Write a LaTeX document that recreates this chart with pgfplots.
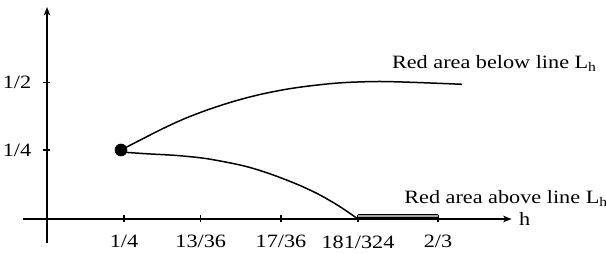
\documentclass[border=0pt]{standalone}
\usepackage{fontspec}
\setmainfont[FakeStretch=1.18]{Liberation Serif}
\usepackage{pgfplots}
\pgfplotsset{compat=1.18}
\usetikzlibrary{arrows.meta}
\begin{document}
\fontsize{11.3}{13.5}\selectfont
\begin{tikzpicture}
\begin{axis}[
  x=0.6pt, y=0.6pt,
  axis lines=middle,
  xmin=-24.3, xmax=464.7, ymin=-24.3, ymax=212,
  axis line style={line width=1.1pt, -{Stealth[length=5pt,width=3.8pt,inset=1.2pt]}},
  xtick={77,153.7,234,311,391},
  xticklabels={1/4,13/36,17/36,181/324,2/3},
  ytick={69,136.7},
  yticklabels={1/4,1/2},
  tick align=center,
  major tick length=4.2pt,
  tick style={line width=0.9pt, black},
  xticklabel style={anchor=north, inner sep=0pt, yshift=-7.6pt},
  yticklabel style={anchor=east, inner sep=0pt, xshift=-7.2pt},
  xlabel={h},
  every axis x label/.style={at={(rel axis cs:1,0.1028)}, anchor=west, inner sep=0pt, xshift=4.2pt},
  clip=false,
]
\addplot[line width=0.9pt, smooth] coordinates {
  (74,69) (113,89) (138,100.5) (163,110) (188,118) (213,124.5) (238,129.5) (258,132.5) (283,135.3) (303,136.7) (333,137.5) (370,136.5) (415,134.7)
};
\addplot[line width=0.9pt, smooth] coordinates {
  (74,67) (100,65.2) (130,63.5) (160,60.3) (193,54) (213,48.5) (233,41.5) (253,33.5) (273,24) (293,12.3) (311,0)
};
\addplot[draw=black, line width=0.5pt, double=gray!70, double distance=1.3pt] coordinates {(311,3) (391,3)};
\addplot[only marks, mark=*, mark size=3.6pt, black] coordinates {(74,69)};
\node[anchor=base west, inner sep=0pt] at (axis cs:344.7,150.5) {Red area below line L\textsubscript{h}};
\node[anchor=base west, inner sep=0pt] at (axis cs:357,15.5) {Red area above line L\textsubscript{h}};
\coordinate (bbA) at (axis cs:-47,-35);
\coordinate (bbB) at (axis cs:559,219);
\end{axis}
\pgfresetboundingbox
\path[use as bounding box] (bbA) rectangle (bbB);
\end{tikzpicture}
\end{document}
